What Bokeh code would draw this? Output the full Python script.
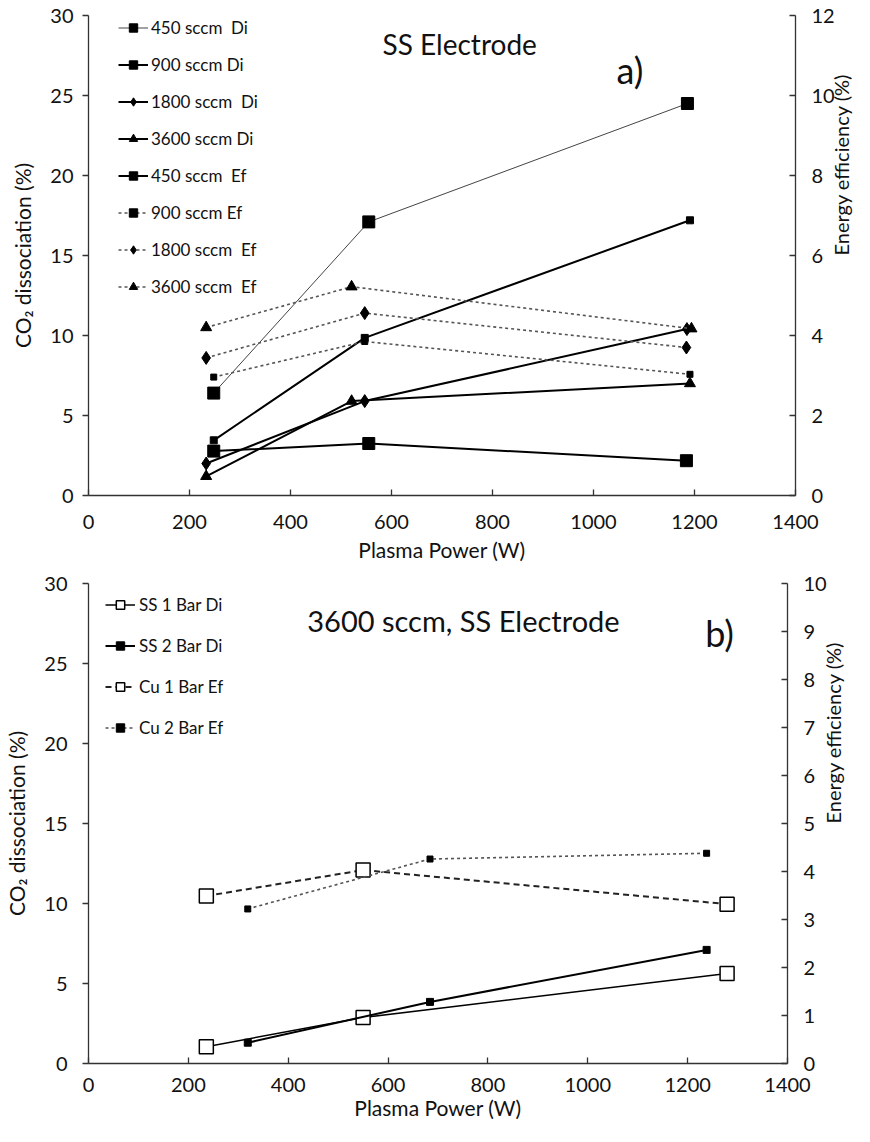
import math
from bokeh.plotting import figure
from bokeh.models import LinearAxis, Range1d, FixedTicker, Legend, LegendItem, Label
from bokeh.layouts import column
from bokeh.embed import file_html
from bokeh.resources import INLINE

FONT = "Lato"

# ---------------- Panel a data (SS electrode) ----------------
a_names = ["450 sccm  Di", "900 sccm Di", "1800 sccm  Di", "3600 sccm Di",
           "450 sccm  Ef", "900 sccm Ef", "1800 sccm  Ef", "3600 sccm  Ef"]
# dissociation (%) -> left axis
a_p450_di = [248, 555, 1186]
a_di450 = [6.4, 17.1, 24.5]
a_p900_di = [248, 547, 1191]
a_di900 = [3.45, 9.85, 17.2]
a_p1800_di = [233, 547, 1185]
a_di1800 = [2.0, 5.9, 10.4]
a_p3600_di = [233, 521, 1191]
a_di3600 = [1.2, 5.9, 7.0]
# energy efficiency (%) -> right axis
a_p450_ef = [248, 555, 1184]
a_ef450 = [1.11, 1.30, 0.87]
a_p900_ef = [248, 547, 1191]
a_ef900 = [2.96, 3.85, 3.03]
a_p1800_ef = [233, 547, 1184]
a_ef1800 = [3.44, 4.56, 3.70]
a_p3600_ef = [233, 521, 1194]
a_ef3600 = [4.20, 5.22, 4.17]

# ---------------- Panel b data (3600 sccm, SS electrode) ----------------
b_names = ["SS 1 Bar Di", "SS 2 Bar Di", "Cu 1 Bar Ef", "Cu 2 Bar Ef"]
b_p_ss1 = [236, 550, 1279]
b_di_ss1 = [1.05, 2.87, 5.63]
b_p_ss2 = [319, 684, 1238]
b_di_ss2 = [1.3, 3.85, 7.1]
b_p_cu1 = [236, 550, 1279]
b_ef_cu1 = [3.49, 4.03, 3.32]
b_p_cu2 = [319, 684, 1238]
b_ef_cu2 = [3.22, 4.26, 4.38]

x_ticks = [0, 200, 400, 600, 800, 1000, 1200, 1400]
di_ticks = [0, 5, 10, 15, 20, 25, 30]
a_ef_ticks = [0, 2, 4, 6, 8, 10, 12]
b_ef_ticks = [0, 1, 2, 3, 4, 5, 6, 7, 8, 9, 10]

AX = "#333333"
TXT = "#111111"
HAS_ORIENT = "axis_label_orientation" in LinearAxis.properties()


def make_fig(left, fw, top, bottom, ef_max, ef_ticks, lab_standoff, title_standoff, ylab_standoff):
    p = figure(frame_width=fw, frame_height=480, output_backend="svg",
               toolbar_location=None, x_range=Range1d(0, 1400), y_range=Range1d(0, 30),
               min_border_left=left, min_border_right=854 - left - fw,
               min_border_top=top, min_border_bottom=bottom,
               background_fill_color="white", border_fill_color="white")
    p.outline_line_color = None
    p.grid.visible = False
    p.extra_y_ranges = {"ef": Range1d(0, ef_max)}
    ax_r = LinearAxis(y_range_name="ef")
    p.add_layout(ax_r, "right")

    xa = p.xaxis[0]
    xa.ticker = FixedTicker(ticks=x_ticks)
    xa.major_tick_in = 6
    xa.major_tick_out = 0
    xa.minor_tick_line_color = None
    xa.major_label_standoff = lab_standoff
    xa.axis_label = "Plasma Power (W)"
    xa.axis_label_standoff = title_standoff

    ya = p.yaxis[0]
    ya.ticker = FixedTicker(ticks=di_ticks)
    ya.major_tick_in = 0
    ya.major_tick_out = 6
    ya.minor_tick_line_color = None
    ya.major_label_standoff = ylab_standoff
    ya.axis_label = "CO\u2082 dissociation (%)"
    ya.axis_label_standoff = 12

    ax_r.ticker = FixedTicker(ticks=ef_ticks)
    ax_r.major_tick_in = 6
    ax_r.major_tick_out = 0
    ax_r.minor_tick_line_color = None
    ax_r.major_label_standoff = 16

    for ax in (xa, ya, ax_r):
        ax.axis_line_color = AX
        ax.axis_line_width = 1.3
        ax.major_tick_line_color = AX
        ax.major_tick_line_width = 1.3
        ax.major_label_text_font = FONT
        ax.major_label_text_font_size = "20px"
        ax.major_label_text_color = TXT
        ax.axis_label_text_font = FONT
        ax.axis_label_text_font_size = "21px"
        ax.axis_label_text_font_style = "normal"
        ax.axis_label_text_color = TXT

    if HAS_ORIENT:
        ax_r.axis_label = "Energy efficiency (%)"
        ax_r.axis_label_orientation = math.pi / 2
        ax_r.axis_label_standoff = 3
        ax_r.axis_label_text_font_size = "20px"
    else:
        p.add_layout(Label(x=1400, y=15, x_offset=54, text="Energy efficiency (%)",
                           angle=math.pi / 2, text_align="center", text_baseline="middle",
                           text_font=FONT, text_font_size="20px", text_color=TXT))
    return p


def series(p, xs, ys, marker, size, line_color, line_width, dash, fill="black",
           y_range_name="default", mline=1.0):
    r1 = p.line(xs, ys, line_color=line_color, line_width=line_width, line_dash=dash,
                y_range_name=y_range_name)
    r2 = p.scatter(xs, ys, marker=marker, size=size, fill_color=fill, line_color="black",
                   line_width=mline, y_range_name=y_range_name)
    return [r1, r2]


# ---------------- Panel a ----------------
pa = make_fig(80, 707, 15, 73, 12, a_ef_ticks, 19, 5, 9)
DOT = "3 3"
GR = "#555555"
ra = []
ra.append(series(pa, a_p450_di, a_di450, "square", 12, "#444444", 1.0, "solid"))
ra.append(series(pa, a_p900_di, a_di900, "square", 7, "black", 2.0, "solid"))
ra.append(series(pa, a_p1800_di, a_di1800, "diamond", 13, "black", 2.0, "solid"))
ra.append(series(pa, a_p3600_di, a_di3600, "triangle", 11, "black", 2.0, "solid"))
ra.append(series(pa, a_p450_ef, a_ef450, "square", 12, "black", 2.0, "solid", y_range_name="ef"))
ra.append(series(pa, a_p900_ef, a_ef900, "square", 6, GR, 1.6, DOT, y_range_name="ef"))
ra.append(series(pa, a_p1800_ef, a_ef1800, "diamond", 13, GR, 1.6, DOT, y_range_name="ef"))
ra.append(series(pa, a_p3600_ef, a_ef3600, "triangle", 11, GR, 1.6, DOT, y_range_name="ef"))

leg_a = Legend(items=[LegendItem(label=n, renderers=r) for n, r in zip(a_names, ra)],
               location=(30, 198), orientation="vertical", padding=0, margin=0,
               spacing=16, label_height=21, glyph_height=21, glyph_width=30,
               label_standoff=3, border_line_color=None, background_fill_alpha=0,
               label_text_font=FONT, label_text_font_size="17px", label_text_color=TXT)
pa.add_layout(leg_a)

pa.add_layout(Label(x=735, y=28.2, text="SS Electrode", text_align="center",
                    text_baseline="middle", text_font=FONT, text_font_size="28px",
                    text_color=TXT))
pa.add_layout(Label(x=1072, y=26.6, text="a)", text_align="center",
                    text_baseline="middle", text_font=FONT, text_font_size="36px",
                    text_color=TXT))

# ---------------- Panel b ----------------
pb = make_fig(88, 699, 15, 63, 10, b_ef_ticks, 14, 0, 15)
rb = []
rb.append(series(pb, b_p_ss1, b_di_ss1, "square", 14, "black", 1.5, "solid", fill="white", mline=1.5))
rb.append(series(pb, b_p_ss2, b_di_ss2, "square", 7, "black", 2.0, "solid"))
rb.append(series(pb, b_p_cu1, b_ef_cu1, "square", 14, "#222222", 2.0, "6 4", fill="white",
                 y_range_name="ef", mline=1.5))
rb.append(series(pb, b_p_cu2, b_ef_cu2, "square", 6, GR, 1.6, DOT, y_range_name="ef"))

leg_b = Legend(items=[LegendItem(label=n, renderers=r) for n, r in zip(b_names, rb)],
               location=(17, 325), orientation="vertical", padding=0, margin=0,
               spacing=20, label_height=21, glyph_height=21, glyph_width=30,
               label_standoff=4, border_line_color=None, background_fill_alpha=0,
               label_text_font=FONT, label_text_font_size="17px", label_text_color=TXT)
pb.add_layout(leg_b)

pb.add_layout(Label(x=751, y=27.7, text="3600 sccm, SS Electrode", text_align="center",
                    text_baseline="middle", text_font=FONT, text_font_size="29px",
                    text_color=TXT))
pb.add_layout(Label(x=1264, y=26.9, text="b)", text_align="center",
                    text_baseline="middle", text_font=FONT, text_font_size="36px",
                    text_color=TXT))

layout = column(pa, pb, spacing=0)
open("out.html", "w").write(file_html(layout, INLINE))
